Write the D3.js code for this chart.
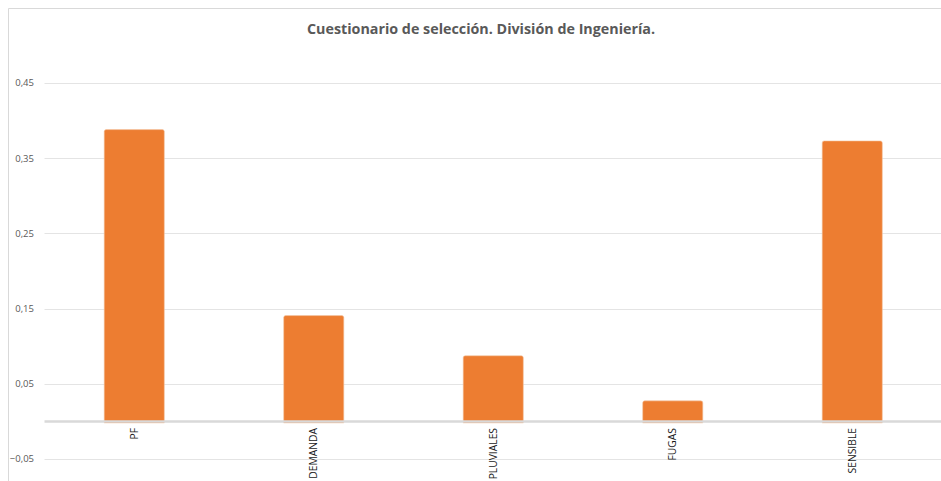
<!DOCTYPE html>
<html>
<head>
<meta charset="utf-8">
<script src="https://cdn.jsdelivr.net/npm/d3@7"></script>
<style>
  html, body { margin: 0; padding: 0; background: #fff; }
  svg { display: block; }
</style>
</head>
<body>
<svg id="chart" width="941" height="481"></svg>
<script>
// Bar data
const categories = ["PF", "DEMANDA", "PLUVIALES", "FUGAS", "SENSIBLE"];
const values = [0.388, 0.1407, 0.0873, 0.0273, 0.373];
const yTicks = [-0.05, 0.05, 0.15, 0.25, 0.35, 0.45];
const title = "Cuestionario de selección. División de Ingeniería.";

const W = 941, H = 481;
const svg = d3.select("#chart");
const font = "'Open Sans', 'Noto Sans', sans-serif";

// outer frame (top and left edges visible)
svg.append("line").attr("x1", 8.5).attr("x2", W).attr("y1", 8.5).attr("y2", 8.5)
  .attr("stroke", "#d9d9d9").attr("stroke-width", 1);
svg.append("line").attr("x1", 8.5).attr("x2", 8.5).attr("y1", 8.5).attr("y2", H)
  .attr("stroke", "#d9d9d9").attr("stroke-width", 1);

const plot = { left: 44.5, right: 942 };
const y = d3.scaleLinear().domain([-0.05, 0.45]).range([459, 83]);
const x = d3.scaleBand().domain(categories).range([plot.left, plot.right])
  .paddingInner(0.665).paddingOuter(0.3325);

// gridlines
svg.append("g").selectAll("line").data(yTicks).join("line")
  .attr("x1", plot.left).attr("x2", W)
  .attr("y1", d => Math.round(y(d)) + 0.5).attr("y2", d => Math.round(y(d)) + 0.5)
  .attr("stroke", "#e4e4e4").attr("stroke-width", 1);

// y tick labels
svg.append("g").selectAll("text").data(yTicks).join("text")
  .attr("x", 34).attr("y", d => y(d)).attr("dy", "0.35em")
  .attr("text-anchor", "end")
  .attr("font-family", font).attr("font-size", 9.5).attr("fill", "#595959")
  .text(d => d3.format(".2f")(d).replace(".", ","));

// bars with slightly rounded tops
const r = 2;
const y0 = y(0) + 1.5;
svg.append("g").selectAll("path").data(categories).join("path")
  .attr("d", (c, i) => {
    const x0 = x(c), x1 = x(c) + x.bandwidth();
    const top = y(values[i]);
    return `M${x0},${y0} L${x0},${top + r} Q${x0},${top} ${x0 + r},${top} L${x1 - r},${top} Q${x1},${top} ${x1},${top + r} L${x1},${y0} Z`;
  })
  .attr("fill", "#ed7d31")
  .attr("stroke", "#f4c9a9").attr("stroke-width", 0.6);

// zero baseline
svg.append("line").attr("x1", plot.left).attr("x2", W)
  .attr("y1", y(0)).attr("y2", y(0))
  .attr("stroke", "#d9d9d9").attr("stroke-width", 2.5);

// category labels, rotated
svg.append("g").selectAll("text").data(categories).join("text")
  .attr("transform", c => `translate(${x(c) + x.bandwidth() / 2},428) rotate(-90)`)
  .attr("text-anchor", "end").attr("dy", "0.35em")
  .attr("font-family", font).attr("font-size", 10.3).attr("fill", "#1a1a1a")
  .text(c => c);

// title
svg.append("text").attr("x", 481).attr("y", 34)
  .attr("text-anchor", "middle")
  .attr("font-family", font).attr("font-size", 14.3).attr("font-weight", "bold")
  .attr("fill", "#595959")
  .text(title);
</script>
</body>
</html>
